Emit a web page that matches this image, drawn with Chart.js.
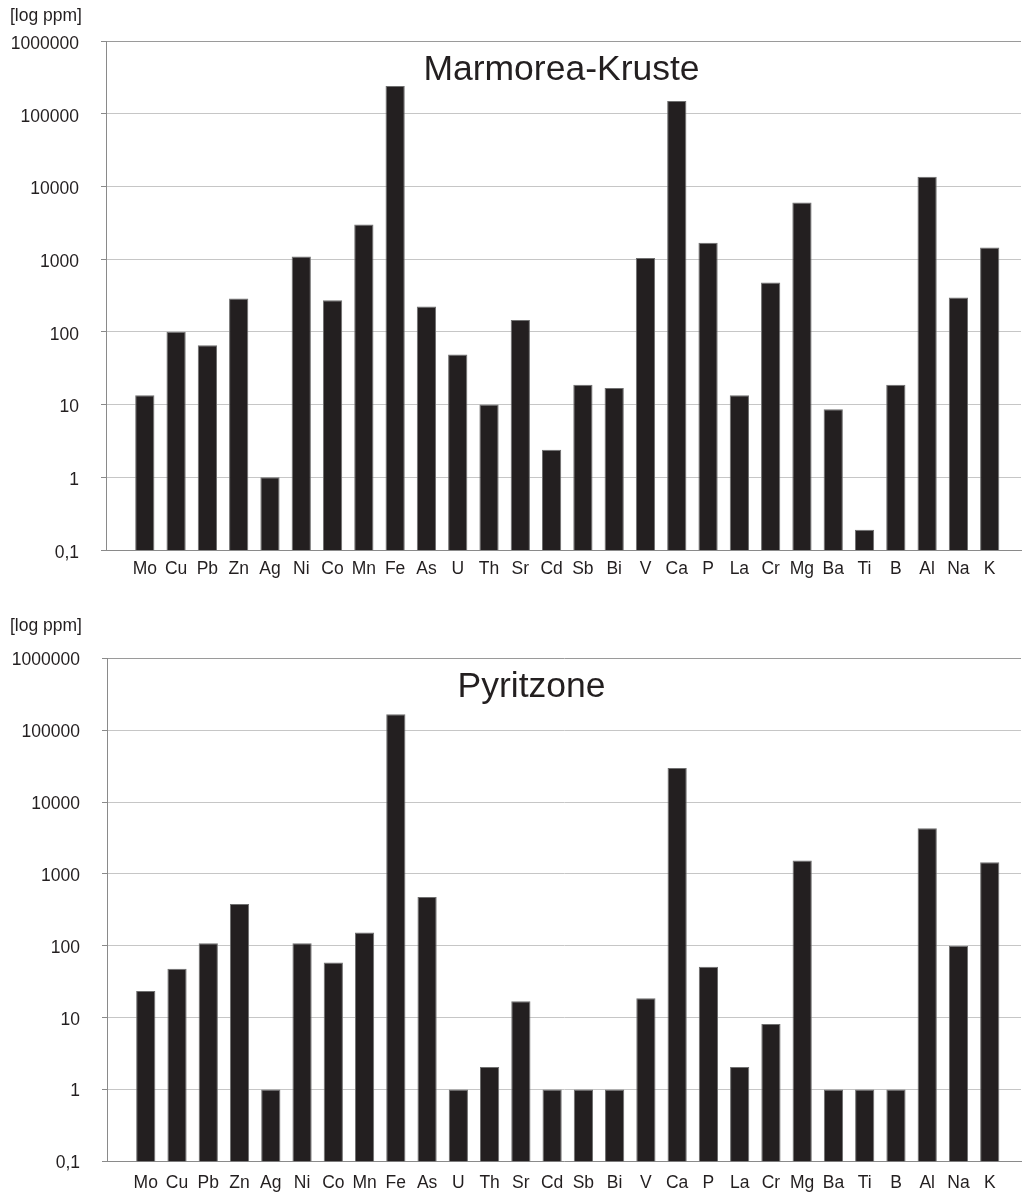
<!DOCTYPE html>
<html>
<head>
<meta charset="utf-8">
<script src="https://cdn.jsdelivr.net/npm/chart.js@4.4.1/dist/chart.umd.min.js"></script>
<style>
  html, body { margin: 0; padding: 0; background: #ffffff; }
  body { width: 1022px; height: 1194px; position: relative; overflow: hidden; }
  .panel { position: absolute; left: 0; width: 1022px; }
  canvas { display: block; }
</style>
</head>
<body>
<div class="panel" style="top:0;height:598px"><canvas id="crust" width="1022" height="598"></canvas></div>
<div class="panel" style="top:600px;height:594px"><canvas id="pyrite" width="1022" height="594"></canvas></div>
<script>
// Element symbols along the x axis
const elements = ['Mo','Cu','Pb','Zn','Ag','Ni','Co','Mn','Fe','As','U','Th','Sr','Cd',
                  'Sb','Bi','V','Ca','P','La','Cr','Mg','Ba','Ti','B','Al','Na','K'];

// Concentrations in ppm, Marmorea crust
const crustValues = [13.4, 100, 65.6, 288, 1, 1090, 273, 3000, 240000, 223, 49, 10, 145, 2.4,
                     18.8, 16.9, 1040, 149000, 1680, 13.4, 477, 6000, 8.6, 0.19, 18.8, 13600, 297, 1450];

// Concentrations in ppm, pyrite zone
const pyriteValues = [23.6, 48, 109, 383, 1, 109, 58.5, 153, 166000, 479, 1, 2.07, 17, 1,
                      1, 1, 18.7, 29800, 51, 2.07, 8.2, 1535, 1, 1, 1, 4320, 100, 1455];

// Logarithmic axis ticks and their printed labels
const yTickValues = [0.1, 1, 10, 100, 1000, 10000, 100000, 1000000];
const yTickLabels = ['0,1', '1', '10', '100', '1000', '10000', '100000', '1000000'];

const unitLabel = '[log ppm]';
const INK = '#231f20';
const FONT = '"Liberation Sans", Arial, Helvetica, sans-serif';
const SMALL = 17.5;

// Draws the panel title inside the plot and the unit label above the axis
const panelText = {
  id: 'panelText',
  afterDraw(chart, args, opts) {
    const ctx = chart.ctx;
    ctx.save();
    ctx.fillStyle = INK;
    ctx.textBaseline = 'alphabetic';
    ctx.font = '35.5px ' + FONT;
    ctx.textAlign = 'center';
    ctx.fillText(opts.title, opts.titleX, opts.titleY);
    ctx.font = SMALL + 'px ' + FONT;
    ctx.textAlign = 'left';
    ctx.fillText(unitLabel, 10, opts.unitY);
    ctx.restore();
  }
};

function makeChart(id, values, cfg) {
  const points = values.map((v, i) => ({ x: i, y: v }));
  return new Chart(document.getElementById(id), {
    type: 'bar',
    data: {
      datasets: [{
        data: points,
        backgroundColor: INK,
        borderColor: '#6f6f6f',
        borderWidth: 1,
        borderSkipped: 'bottom',
        categoryPercentage: 1,
        barPercentage: 0.615
      }]
    },
    options: {
      responsive: false,
      animation: false,
      events: [],
      layout: { padding: { top: cfg.top, right: 1, left: 0, bottom: 0 } },
      plugins: {
        legend: { display: false },
        tooltip: { enabled: false },
        panelText: { title: cfg.title, titleX: cfg.titleX, titleY: cfg.titleY, unitY: cfg.unitY }
      },
      scales: {
        x: {
          type: 'linear',
          offset: false,
          min: -1.24,
          max: 28,
          grid: { display: false, drawTicks: false },
          border: { display: true, color: '#8a8a8a', width: 1 },
          afterBuildTicks: s => { s.ticks = elements.map((_, i) => ({ value: i })); },
          afterFit: s => { s.height = cfg.xHeight; },
          ticks: {
            autoSkip: false,
            maxRotation: 0,
            padding: cfg.xPad,
            color: INK,
            font: { family: FONT, size: SMALL },
            callback: v => elements[v] ?? ''
          }
        },
        y: {
          type: 'logarithmic',
          min: 0.1,
          max: 1000000,
          afterBuildTicks: s => { s.ticks = yTickValues.map(v => ({ value: v })); },
          afterFit: s => { s.width = cfg.left; },
          grid: {
            color: c => (c.tick && c.tick.value === 1000000) ? '#9a9a9a' : '#c6c6c6',
            tickColor: '#8a8a8a',
            tickLength: 5,
            lineWidth: 1
          },
          border: { display: true, color: '#8a8a8a', width: 1 },
          ticks: {
            padding: 22,
            labelOffset: cfg.yLabelOffset,
            color: INK,
            font: { family: FONT, size: SMALL },
            callback: v => {
              const k = yTickValues.indexOf(v);
              return k >= 0 ? yTickLabels[k] : '';
            }
          }
        }
      }
    },
    plugins: [panelText]
  });
}

makeChart('crust', crustValues, {
  title: 'Marmorea-Kruste', titleX: 561.5, titleY: 80, unitY: 21,
  top: 41, left: 106, xHeight: 48, xPad: 9, yLabelOffset: 3
});

makeChart('pyrite', pyriteValues, {
  title: 'Pyritzone', titleX: 531.5, titleY: 97, unitY: 31,
  top: 58.3, left: 107, xHeight: 32.3, xPad: 11, yLabelOffset: 2
});
</script>
</body>
</html>
